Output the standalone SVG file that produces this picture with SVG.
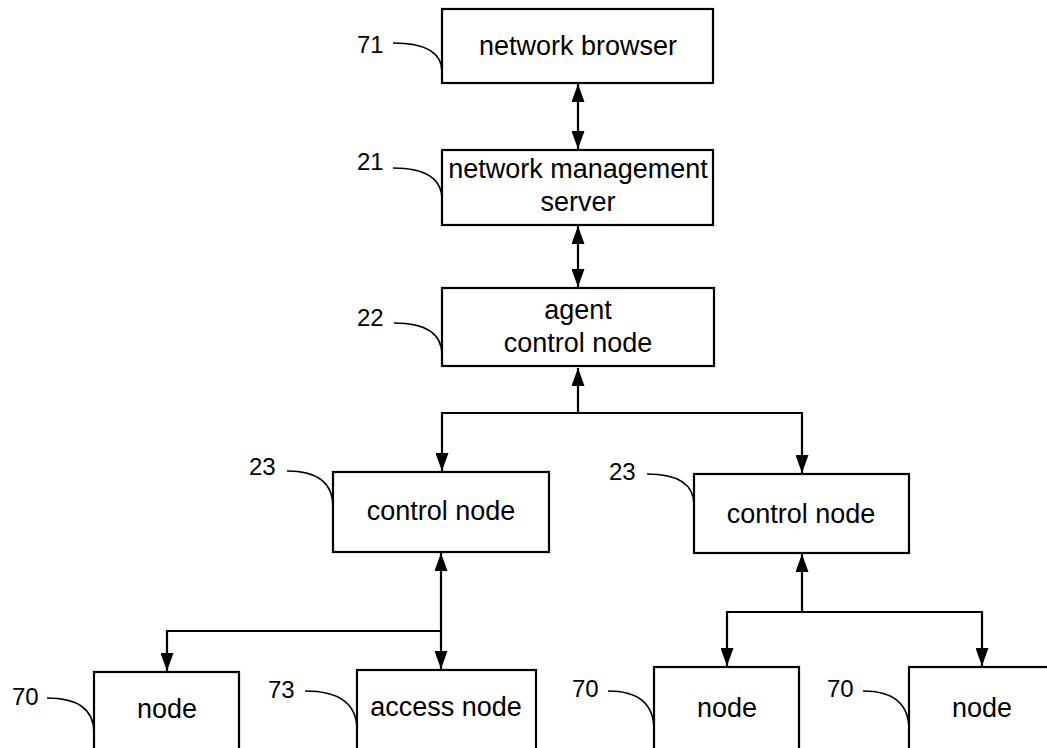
<svg xmlns="http://www.w3.org/2000/svg" width="1047" height="748" viewBox="0 0 1047 748">
<style>
.box{fill:#fff;stroke:#000;stroke-width:2.2}
.t{font-family:"Liberation Sans",Arial,sans-serif;font-size:27px;fill:#000;text-anchor:middle}
.n{font-family:"Liberation Sans",Arial,sans-serif;font-size:24px;fill:#000}
.lead{fill:none;stroke:#000;stroke-width:1.6}
.c{fill:none;stroke:#000;stroke-width:2.2}
</style>
<defs>
<marker id="ah" markerUnits="userSpaceOnUse" markerWidth="18" markerHeight="13" refX="18" refY="6.5" orient="auto-start-reverse" viewBox="0 0 18 13">
<path d="M0,0 L18,6.5 L0,13 z" fill="#000"/>
</marker>
</defs>
<rect width="1047" height="748" fill="#fff"/>
<g id="connectors">
<line class="c" x1="578" y1="84" x2="578" y2="149" marker-start="url(#ah)" marker-end="url(#ah)"/>
<line class="c" x1="578" y1="226" x2="578" y2="287" marker-start="url(#ah)" marker-end="url(#ah)"/>
<line class="c" x1="578" y1="413" x2="578" y2="368" marker-end="url(#ah)"/>
<path class="c" d="M442,471 L442,413 L802,413 L802,473" marker-start="url(#ah)" marker-end="url(#ah)"/>
<line class="c" x1="441" y1="553" x2="441" y2="669" marker-start="url(#ah)" marker-end="url(#ah)"/>
<path class="c" d="M441,631 L167,631 L167,671" marker-end="url(#ah)"/>
<line class="c" x1="802" y1="554" x2="802" y2="612" marker-start="url(#ah)"/>
<path class="c" d="M727,666 L727,612 L982,612 L982,666" marker-start="url(#ah)" marker-end="url(#ah)"/>
</g>
<g id="n71">
<rect class="box" x="442" y="9" width="271" height="74"/>
<text class="t" x="578" y="55">network browser</text>
<text class="n" x="357" y="53">71</text>
<path class="lead" d="M393,43 Q442,43 442,72"/>
</g>
<g id="n21">
<rect class="box" x="442" y="150" width="271" height="75"/>
<text class="t" x="578" y="178">network management</text>
<text class="t" x="578" y="211">server</text>
<text class="n" x="357" y="170">21</text>
<path class="lead" d="M393,168 Q442,168 442,200"/>
</g>
<g id="n22">
<rect class="box" x="442" y="288" width="272" height="78"/>
<text class="t" x="578" y="319">agent</text>
<text class="t" x="578" y="352">control node</text>
<text class="n" x="357" y="326">22</text>
<path class="lead" d="M394,323 Q442,323 442,355"/>
</g>
<g id="n23a">
<rect class="box" x="333" y="472" width="216" height="80"/>
<text class="t" x="441" y="520">control node</text>
<text class="n" x="249" y="475">23</text>
<path class="lead" d="M287,471 Q333,471 333,507"/>
</g>
<g id="n23b">
<rect class="box" x="694" y="474" width="215" height="79"/>
<text class="t" x="801" y="523">control node</text>
<text class="n" x="609" y="480">23</text>
<path class="lead" d="M647,474 Q694,474 694,505"/>
</g>
<g id="n70a">
<rect class="box" x="94" y="672" width="145" height="90"/>
<text class="t" x="167" y="718">node</text>
<text class="n" x="12" y="705">70</text>
<path class="lead" d="M47,698 Q94,698 94,733"/>
</g>
<g id="n73">
<rect class="box" x="357" y="670" width="179" height="92"/>
<text class="t" x="446" y="716">access node</text>
<text class="n" x="268" y="698">73</text>
<path class="lead" d="M305,691 Q357,691 357,730"/>
</g>
<g id="n70b">
<rect class="box" x="654" y="667" width="145" height="95"/>
<text class="t" x="727" y="717">node</text>
<text class="n" x="572" y="697">70</text>
<path class="lead" d="M608,691 Q654,691 654,730"/>
</g>
<g id="n70c">
<rect class="box" x="909" y="667" width="145" height="95"/>
<text class="t" x="982" y="717">node</text>
<text class="n" x="827" y="697">70</text>
<path class="lead" d="M863,691 Q909,691 909,730"/>
</g>
</svg>
